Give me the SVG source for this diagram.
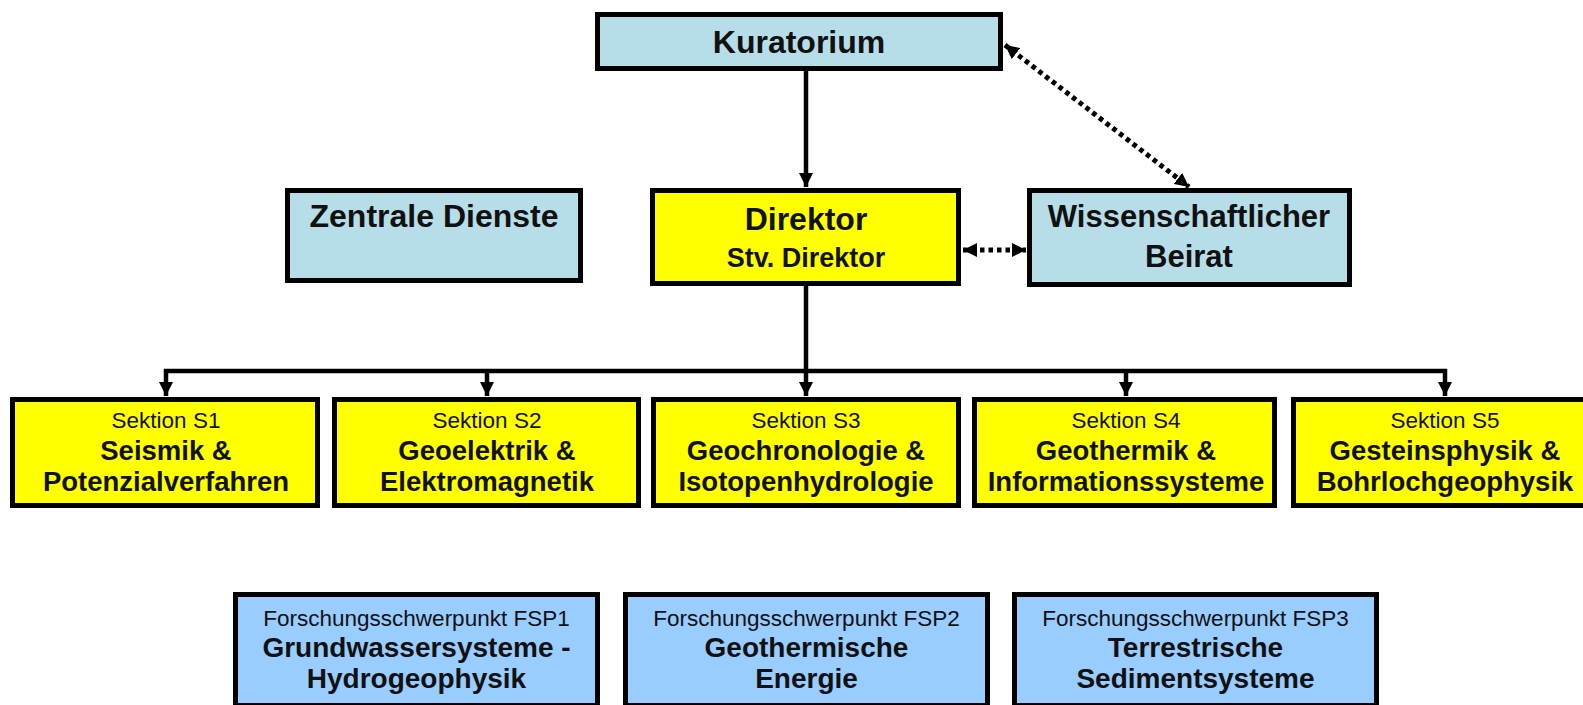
<svg xmlns="http://www.w3.org/2000/svg" width="1583" height="705" viewBox="0 0 1583 705">
<style>
  .box { stroke: #000; stroke-width: 5; }
  .teal { fill: #B7DEE8; }
  .yel { fill: #FFFF00; }
  .blue { fill: #99CCFF; }
  text { font-family: "Liberation Sans", Arial, sans-serif; fill: #111; text-anchor: middle; }
  .b { font-weight: bold; }
  .big { font-size: 31px; }
  .mid { font-size: 27.5px; }
  .lab { font-size: 22.5px; }
  .solid { stroke: #000; stroke-width: 4.5; fill: none; }
  .dot { stroke: #000; stroke-width: 5; fill: none; stroke-dasharray: 4.5 4; }
</style>
<defs>
  <marker id="ah" viewBox="0 0 14 14" refX="14" refY="7" markerWidth="14" markerHeight="14" orient="auto-start-reverse" markerUnits="userSpaceOnUse">
    <path d="M0,0 L14,7 L0,14 z" fill="#000"/>
  </marker>
</defs>
<rect width="1583" height="705" fill="#fff"/>

<g id="connectors">
  <line class="solid" x1="806" y1="71" x2="806" y2="187" marker-end="url(#ah)"/>
  <line class="dot" x1="963" y1="250" x2="1026" y2="250" marker-start="url(#ah)" marker-end="url(#ah)"/>
  <line class="dot" x1="1005" y1="45" x2="1189" y2="187" marker-start="url(#ah)" marker-end="url(#ah)"/>
  <line class="solid" x1="806" y1="286" x2="806" y2="396" marker-end="url(#ah)"/>
  <polyline class="solid" points="166,396 166,371 1445,371 1445,396" marker-start="url(#ah)" marker-end="url(#ah)"/>
  <line class="solid" x1="487" y1="371" x2="487" y2="396" marker-end="url(#ah)"/>
  <line class="solid" x1="1126" y1="371" x2="1126" y2="396" marker-end="url(#ah)"/>
</g>

<g id="kuratorium">
  <rect class="box teal" x="597.5" y="14.5" width="403" height="54"/>
  <text class="b" x="799" y="53" font-size="32">Kuratorium</text>
</g>
<g id="zentrale-dienste">
  <rect class="box teal" x="287.5" y="190.5" width="293" height="90"/>
  <text class="b" x="434" y="227" font-size="32">Zentrale Dienste</text>
</g>
<g id="direktor">
  <rect class="box yel" x="652.5" y="190.5" width="306" height="93"/>
  <text class="b" x="806" y="230" font-size="32">Direktor</text>
  <text class="b" x="806" y="267" font-size="27">Stv. Direktor</text>
</g>
<g id="beirat">
  <rect class="box teal" x="1029.5" y="190.5" width="320" height="94"/>
  <text class="b big" x="1189" y="227">Wissenschaftlicher</text>
  <text class="b big" x="1189" y="267">Beirat</text>
</g>

<g id="s1">
  <rect class="box yel" x="12.5" y="399.5" width="305" height="106"/>
  <text class="lab" x="166" y="428">Sektion S1</text>
  <text class="b mid" x="166" y="460">Seismik &amp;</text>
  <text class="b mid" x="166" y="491">Potenzialverfahren</text>
</g>
<g id="s2">
  <rect class="box yel" x="334.5" y="399.5" width="304" height="106"/>
  <text class="lab" x="487" y="428">Sektion S2</text>
  <text class="b mid" x="487" y="460">Geoelektrik &amp;</text>
  <text class="b mid" x="487" y="491">Elektromagnetik</text>
</g>
<g id="s3">
  <rect class="box yel" x="653.5" y="399.5" width="305" height="106"/>
  <text class="lab" x="806" y="428">Sektion S3</text>
  <text class="b mid" x="806" y="460">Geochronologie &amp;</text>
  <text class="b mid" x="806" y="491">Isotopenhydrologie</text>
</g>
<g id="s4">
  <rect class="box yel" x="974.5" y="399.5" width="300" height="106"/>
  <text class="lab" x="1126" y="428">Sektion S4</text>
  <text class="b mid" x="1126" y="460">Geothermik &amp;</text>
  <text class="b mid" x="1126" y="491">Informationssysteme</text>
</g>
<g id="s5">
  <rect class="box yel" x="1293.5" y="399.5" width="304" height="106"/>
  <text class="lab" x="1445" y="428">Sektion S5</text>
  <text class="b mid" x="1445" y="460">Gesteinsphysik &amp;</text>
  <text class="b mid" x="1445" y="491">Bohrlochgeophysik</text>
</g>

<g id="fsp1">
  <rect class="box blue" x="235.5" y="594.5" width="362" height="111"/>
  <text class="lab" x="416.5" y="626">Forschungsschwerpunkt FSP1</text>
  <text class="b" x="416.5" y="657" font-size="28">Grundwassersysteme -</text>
  <text class="b" x="416.5" y="688" font-size="28">Hydrogeophysik</text>
</g>
<g id="fsp2">
  <rect class="box blue" x="625.5" y="594.5" width="362" height="111"/>
  <text class="lab" x="806.5" y="626">Forschungsschwerpunkt FSP2</text>
  <text class="b" x="806.5" y="657" font-size="28">Geothermische</text>
  <text class="b" x="806.5" y="688" font-size="28">Energie</text>
</g>
<g id="fsp3">
  <rect class="box blue" x="1014.5" y="594.5" width="362" height="111"/>
  <text class="lab" x="1195.5" y="626">Forschungsschwerpunkt FSP3</text>
  <text class="b" x="1195.5" y="657" font-size="28">Terrestrische</text>
  <text class="b" x="1195.5" y="688" font-size="28">Sedimentsysteme</text>
</g>
</svg>
